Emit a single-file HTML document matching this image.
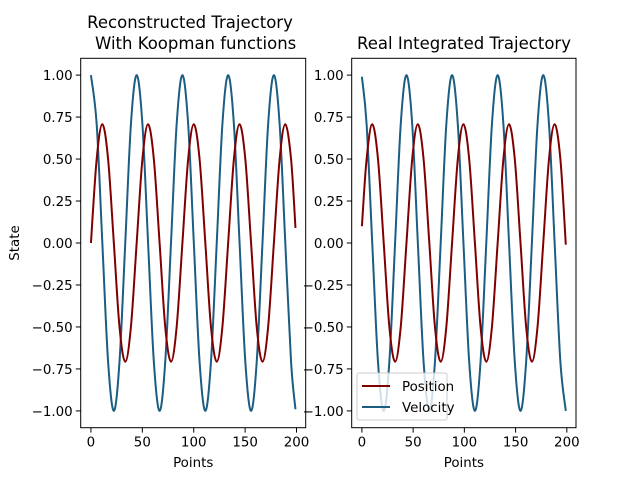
<!DOCTYPE html>
<html><head><meta charset="utf-8"><style>
body{margin:0;background:#fff}
svg{display:block;font-family:"DejaVu Sans","Liberation Sans",sans-serif}
</style></head><body>
<svg id="c" width="640" height="480" viewBox="0 0 640 480"></svg>
<script>
const leftX=[0,5.6,11.1,16.7,22.3,27.8,33.4,38.9,44.5,50.1,55.6,61.2,66.8,72.3,77.9,83.4,89,94.6,100.1,105.7,111.3,116.8,122.4,127.9,133.5,139.1,144.6,150.2,155.8,161.3,166.9,172.4,178,183.6,189.1,194.7,199];
const leftPos=[0,0.5,0.707,0.5,0,-0.5,-0.707,-0.5,0,0.5,0.707,0.5,0,-0.5,-0.707,-0.5,0,0.5,0.707,0.5,0,-0.5,-0.707,-0.5,0,0.5,0.707,0.5,0,-0.5,-0.707,-0.5,0,0.5,0.707,0.5,0.09];
const leftVel=[1,0.707,0,-0.707,-1,-0.707,0,0.707,1,0.707,0,-0.707,-1,-0.707,0,0.707,1,0.707,0,-0.707,-1,-0.707,0,0.707,1,0.707,0,-0.707,-1,-0.707,0,0.707,1,0.707,0,-0.707,-0.99];
const rightX=[0,4.6,10.1,15.7,21.3,26.8,32.4,37.9,43.5,49.1,54.6,60.2,65.8,71.3,76.9,82.4,88,93.6,99.1,104.7,110.3,115.8,121.4,126.9,132.5,138.1,143.6,149.2,154.8,160.3,165.9,171.4,177,182.6,188.1,193.7,199];
const rightPos=[0.1,0.5,0.707,0.5,0,-0.5,-0.707,-0.5,0,0.5,0.707,0.5,0,-0.5,-0.707,-0.5,0,0.5,0.707,0.5,0,-0.5,-0.707,-0.5,0,0.5,0.707,0.5,0,-0.5,-0.707,-0.5,0,0.5,0.707,0.5,-0.01];
const rightVel=[0.99,0.707,0,-0.707,-1,-0.707,0,0.707,1,0.707,0,-0.707,-1,-0.707,0,0.707,1,0.707,0,-0.707,-1,-0.707,0,0.707,1,0.707,0,-0.707,-1,-0.707,0,0.707,1,0.707,0,-0.707,-1.0];
const xTicks=[0,50,100,150,200];
const yTicks=[1,0.75,0.5,0.25,0,-0.25,-0.5,-0.75,-1];
const yTickLabels=["1.00","0.75","0.50","0.25","0.00","\u22120.25","\u22120.50","\u22120.75","\u22121.00"];
const svg=document.getElementById('c');
const NS='http://www.w3.org/2000/svg';
function mk(t,a,p){const e=document.createElementNS(NS,t);for(const k in a)e.setAttribute(k,a[k]);(p||svg).appendChild(e);return e;}
const POS='#800000',VEL='#1b5e82';
const FS=13.4;
const LW=2;
function panel(L,R,name,xs,pos,vel){
  const T=58.3,B=427.7;
  const sx=v=>L+(v+9.95)/(218.9)*(R-L);
  const sy=v=>T+(1.1-v)/2.2*(B-T);
  const g=mk('g',{});
  
  
  function path(ys,col,nm){
    const pts=xs.map((x,i)=>[sx(x),sy(ys[i])]);
    let d='M'+pts[0][0].toFixed(2)+','+pts[0][1].toFixed(2);
    for(let i=0;i<pts.length-1;i++){
      const p0=pts[Math.max(0,i-1)],p1=pts[i],p2=pts[i+1],p3=pts[Math.min(pts.length-1,i+2)];
      const c1=[p1[0]+(p2[0]-p0[0])/6,p1[1]+(p2[1]-p0[1])/6];
      const c2=[p2[0]-(p3[0]-p1[0])/6,p2[1]-(p3[1]-p1[1])/6];
      d+='C'+c1.map(v=>v.toFixed(2))+' '+c2.map(v=>v.toFixed(2))+' '+p2.map(v=>v.toFixed(2));
    }
    const e=mk('path',{d:d,fill:'none',stroke:col,'stroke-width':LW},g);
    
    
  }
  path(vel,VEL,'velocity-line');
  path(pos,POS,'position-line');
  const fr=mk('rect',{x:L,y:T,width:R-L,height:B-T,fill:'none',stroke:'#000','stroke-width':1},g);
  
  
  xTicks.forEach(v=>{
    const x=sx(v);
    mk('line',{x1:x,x2:x,y1:B,y2:B+4.9,stroke:'#000','stroke-width':1},g);
    const t=mk('text',{x:x,y:B+19,'font-size':FS,'text-anchor':'middle'},g);
    t.textContent=v;
    
    
  });
  yTicks.forEach((v,i)=>{
    const y=sy(v);
    mk('line',{x1:L-4.9,x2:L,y1:y,y2:y,stroke:'#000','stroke-width':1},g);
    const t=mk('text',{x:L-8,y:y+5,'font-size':FS,'text-anchor':'end'},g);
    t.textContent=yTickLabels[i];
    
    
  });
  const xl=mk('text',{x:(L+R)/2,y:467,'font-size':FS,'text-anchor':'middle'},g);
  xl.textContent='Points';
  
  
  return g;
}
panel(80.7,305.7,'left-panel',leftX,leftPos,leftVel);
panel(351.7,576,'right-panel',rightX,rightPos,rightVel);
function txt(s,a,nm){const t=mk('text',a);t.textContent=s;return t;}
txt('Reconstructed Trajectory',{x:190,y:28,'font-size':16.5,'text-anchor':'middle'},'left-title-line1');
txt('\u00a0With Koopman functions',{x:193,y:49,'font-size':16.5,'text-anchor':'middle'},'left-title-line2');
txt('Real Integrated Trajectory',{x:464,y:49,'font-size':16.5,'text-anchor':'middle'},'right-title');
txt('State',{x:19,y:243,'font-size':FS,'text-anchor':'middle',transform:'rotate(-90 19 243)'},'y-axis-title');
const lg=mk('g',{});


mk('rect',{x:357,y:373,width:90,height:47,rx:2,fill:'#fff','fill-opacity':0.8,stroke:'#ccc','stroke-width':1},lg);
mk('line',{x1:362,x2:390,y1:386,y2:386,stroke:POS,'stroke-width':LW},lg);
mk('line',{x1:362,x2:390,y1:407,y2:407,stroke:VEL,'stroke-width':LW},lg);
const l1=mk('text',{x:402,y:391,'font-size':FS},lg);l1.textContent='Position';


const l2=mk('text',{x:402,y:412,'font-size':FS},lg);l2.textContent='Velocity';


</script>
</body></html>
